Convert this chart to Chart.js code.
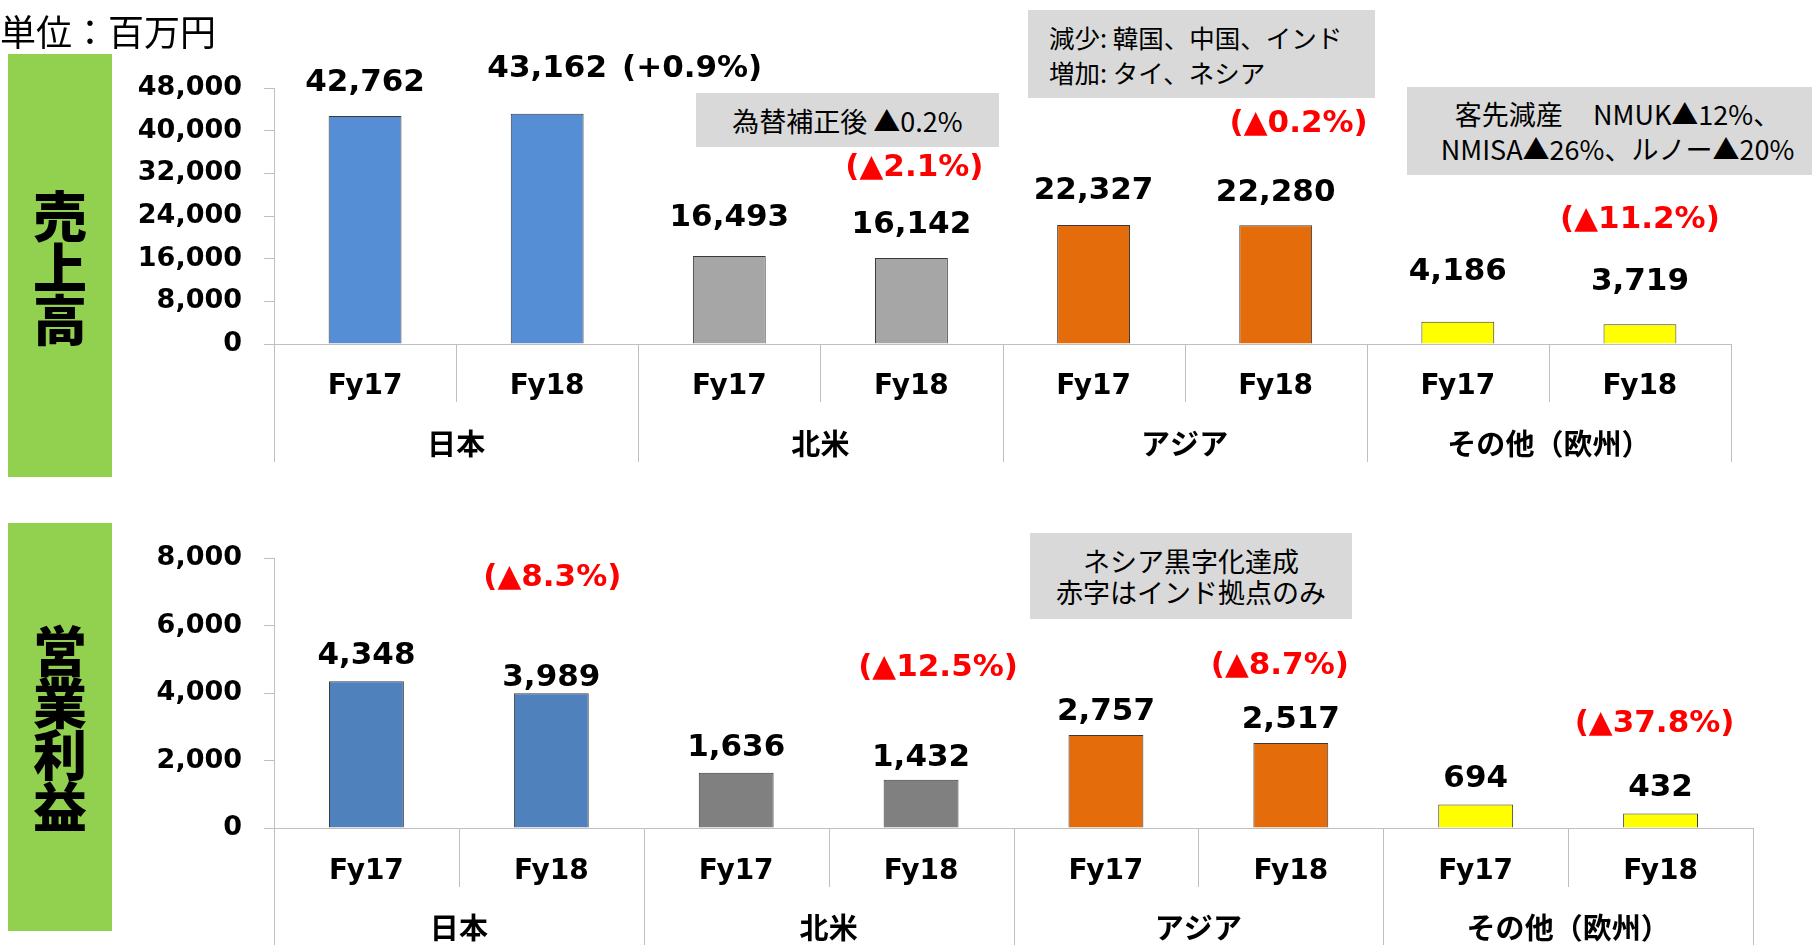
<!DOCTYPE html>
<html>
<head>
<meta charset="utf-8">
<script src="https://cdn.jsdelivr.net/npm/chart.js@4.4.1/dist/chart.umd.min.js"></script>
<style>
  html, body { margin: 0; padding: 0; }
  body { width: 1812px; height: 945px; overflow: hidden; background: #fff; position: relative;
         font-family: 'Noto Sans CJK JP', sans-serif; color: #000; }
  canvas { position: absolute; left: 0; }
  .unit { position: absolute; left: 0; top: 10px; font-size: 36px; line-height: 40px; white-space: nowrap; }
  .side { position: absolute; left: 8px; width: 104px; background: #92D050; display: flex; align-items: center;
          justify-content: center; font-size: 54px; font-weight: 900; line-height: 52px; text-align: center; }
  .note { position: absolute; background: #D9D9D9; font-size: 27px; line-height: 35px; z-index: 2;
          display: flex; flex-direction: column; justify-content: center; white-space: nowrap; box-sizing: border-box; }
</style>
</head>
<body>
<canvas id="sales" width="1812" height="472" style="top:0px"></canvas>
<canvas id="profit" width="1812" height="473" style="top:472px"></canvas>

<div class="unit">単位：百万円</div>
<div class="side" style="top:54px;height:423px;"><div>売<br>上<br>高</div></div>
<div class="side" style="top:523px;height:408px;"><div>営<br>業<br>利<br>益</div></div>

<div class="note" style="left:696px;top:93px;width:303px;height:54px;align-items:center;">為替補正後 ▲0.2%</div>
<div class="note" style="left:1028px;top:10px;width:347px;height:88px;padding-left:21px;font-size:25.5px;">
  <div>減少: 韓国、中国、インド</div><div>増加: タイ、ネシア</div></div>
<div class="note" style="left:1407px;top:87px;width:405px;height:88px;align-items:center;padding-left:16px;">
  <div>客先減産&nbsp;&nbsp;&nbsp;&nbsp;&nbsp;NMUK▲12%、</div><div>NMISA▲26%、ルノー▲20%</div></div>
<div class="note" style="left:1030px;top:533px;width:322px;height:86px;align-items:center;line-height:31px;">
  <div>ネシア黒字化達成</div><div>赤字はインド拠点のみ</div></div>

<script>
// ---------------- data ----------------
const regions = ['日本', '北米', 'アジア', 'その他（欧州）'];
const periods = ['Fy17', 'Fy18', 'Fy17', 'Fy18', 'Fy17', 'Fy18', 'Fy17', 'Fy18'];
const salesValues = [42762, 43162, 16493, 16142, 22327, 22280, 4186, 3719];
const profitValues = [4348, 3989, 1636, 1432, 2757, 2517, 694, 432];
const salesTicks = [0, 8000, 16000, 24000, 32000, 40000, 48000];
const profitTicks = [0, 2000, 4000, 6000, 8000];
const salesChange = ['', '(+0.9%)', '', '(▲2.1%)', '', '(▲0.2%)', '', '(▲11.2%)'];
const profitChange = ['', '(▲8.3%)', '', '(▲12.5%)', '', '(▲8.7%)', '', '(▲37.8%)'];
const salesColors = ['#558ED5', '#558ED5', '#A6A6A6', '#A6A6A6', '#E46C0A', '#E46C0A', '#FFFF00', '#FFFF00'];
const profitColors = ['#4F81BD', '#4F81BD', '#808080', '#808080', '#E46C0A', '#E46C0A', '#FFFF00', '#FFFF00'];

// ---------------- styling ----------------
const AXIS = '#BFBFBF';
const NUM_FONT = "'DejaVu Sans', sans-serif";
const CJK_FONT = "'Noto Sans CJK JP', sans-serif";

const annotatePlugin = {
  id: 'annotate',
  afterDraw(chart, args, opts) {
    const ctx = chart.ctx;
    const xs = chart.scales.x;
    const area = chart.chartArea;
    const meta = chart.getDatasetMeta(0);
    const vals = chart.data.datasets[0].data;
    ctx.save();
    // category separators below the axis
    ctx.strokeStyle = AXIS;
    ctx.lineWidth = 1;
    const n = vals.length;
    const step = xs.getPixelForValue(1) - xs.getPixelForValue(0);
    for (let i = 0; i <= n; i++) {
      const px = Math.round(xs.getPixelForValue(0) - step / 2 + i * step) + 0.5;
      const len = i % 2 === 0 ? opts.longSep : opts.shortSep;
      ctx.beginPath();
      ctx.moveTo(px, area.bottom);
      ctx.lineTo(px, area.bottom + len);
      ctx.stroke();
    }
    // group labels
    ctx.fillStyle = '#000';
    ctx.font = 'bold 29px ' + CJK_FONT;
    ctx.textAlign = 'center';
    ctx.textBaseline = 'middle';
    regions.forEach((r, g) => {
      const cx = (xs.getPixelForValue(2 * g) + xs.getPixelForValue(2 * g + 1)) / 2;
      ctx.fillText(r, cx, area.bottom + opts.groupDy);
    });
    // value labels
    const vs = opts.valueSize;
    ctx.textBaseline = 'alphabetic';
    meta.data.forEach((bar, i) => {
      ctx.font = 'bold ' + vs + 'px ' + NUM_FONT;
      ctx.fillStyle = '#000';
      ctx.textAlign = 'center';
      const txt = vals[i].toLocaleString('en-US');
      const cy = bar.y - opts.labelDy[i];
      ctx.fillText(txt, bar.x, cy + 0.364 * vs);
      const ch = opts.changes[i];
      const pos = opts.changePos[i];
      if (!ch || !pos) return;
      if (pos.inline) {
        const w = ctx.measureText(txt).width;
        ctx.textAlign = 'left';
        ctx.fillText(ch, bar.x + w / 2 + pos.gap, cy + 0.364 * vs);
      } else {
        const cs = opts.changeSize;
        ctx.font = 'bold ' + cs + 'px ' + NUM_FONT;
        ctx.fillStyle = '#FF0000';
        ctx.fillText(ch, bar.x + pos.dx, bar.y - pos.dy + 0.34 * cs);
      }
    });
    ctx.restore();
  }
};

function makeChart(id, values, colors, ticks, changes, cfg) {
  return new Chart(document.getElementById(id), {
    type: 'bar',
    data: {
      labels: periods,
      datasets: [{
        data: values,
        backgroundColor: colors,
        borderColor: '#3A3A3A',
        borderWidth: 1,
        barPercentage: cfg.barPct,
        categoryPercentage: 1
      }]
    },
    options: {
      responsive: false,
      animation: false,
      devicePixelRatio: 1,
      layout: { padding: { top: cfg.padTop, right: cfg.padRight, left: 0, bottom: 0 } },
      plugins: {
        legend: { display: false },
        tooltip: { enabled: false },
        annotate: {
          longSep: cfg.longSep, shortSep: cfg.shortSep, groupDy: 100,
          valueSize: 31, changeSize: 31,
          labelDy: cfg.labelDy, changes: changes, changePos: cfg.changePos
        }
      },
      scales: {
        x: {
          grid: { display: false, drawTicks: false },
          border: { display: true, color: AXIS, width: 1 },
          ticks: { color: '#000', font: { family: NUM_FONT, size: 28, weight: 'bold' },
                   padding: cfg.xPad, maxRotation: 0, autoSkip: false },
          afterFit: s => { s.height = cfg.xHeight; }
        },
        y: {
          min: 0,
          max: ticks[ticks.length - 1],
          afterBuildTicks: s => { s.ticks = ticks.map(v => ({ value: v })); },
          grid: { drawOnChartArea: false, drawTicks: true, tickLength: 10, color: AXIS },
          border: { display: true, color: AXIS, width: 1 },
          ticks: { color: '#000', font: { family: NUM_FONT, size: 27, weight: 'bold' }, padding: 22,
                   callback: v => Number(v).toLocaleString('en-US') },
          afterFit: s => { s.width = 274; }
        }
      }
    },
    plugins: [annotatePlugin]
  });
}

makeChart('sales', salesValues, salesColors, salesTicks, salesChange, {
  barPct: 0.4, padTop: 88, padRight: 81, xHeight: 128, xPad: 26,
  longSep: 118, shortSep: 58,
  labelDy: [36, 48, 41, 36, 37, 35, 53, 45],
  changePos: [null, { inline: true, gap: 15 }, null, { dx: 3, dy: 92 }, null, { dx: 23, dy: 104 }, null, { dx: 0, dy: 107 }]
});

makeChart('profit', profitValues, profitColors, profitTicks, profitChange, {
  barPct: 0.405, padTop: 86, padRight: 59, xHeight: 117, xPad: 27,
  longSep: 117, shortSep: 59,
  labelDy: [29, 19, 28, 25, 26, 26, 29, 29],
  changePos: [null, { dx: 1, dy: 118 }, null, { dx: 17, dy: 114 }, null, { dx: -11, dy: 80 }, null, { dx: -6, dy: 92 }]
});
</script>
</body>
</html>
